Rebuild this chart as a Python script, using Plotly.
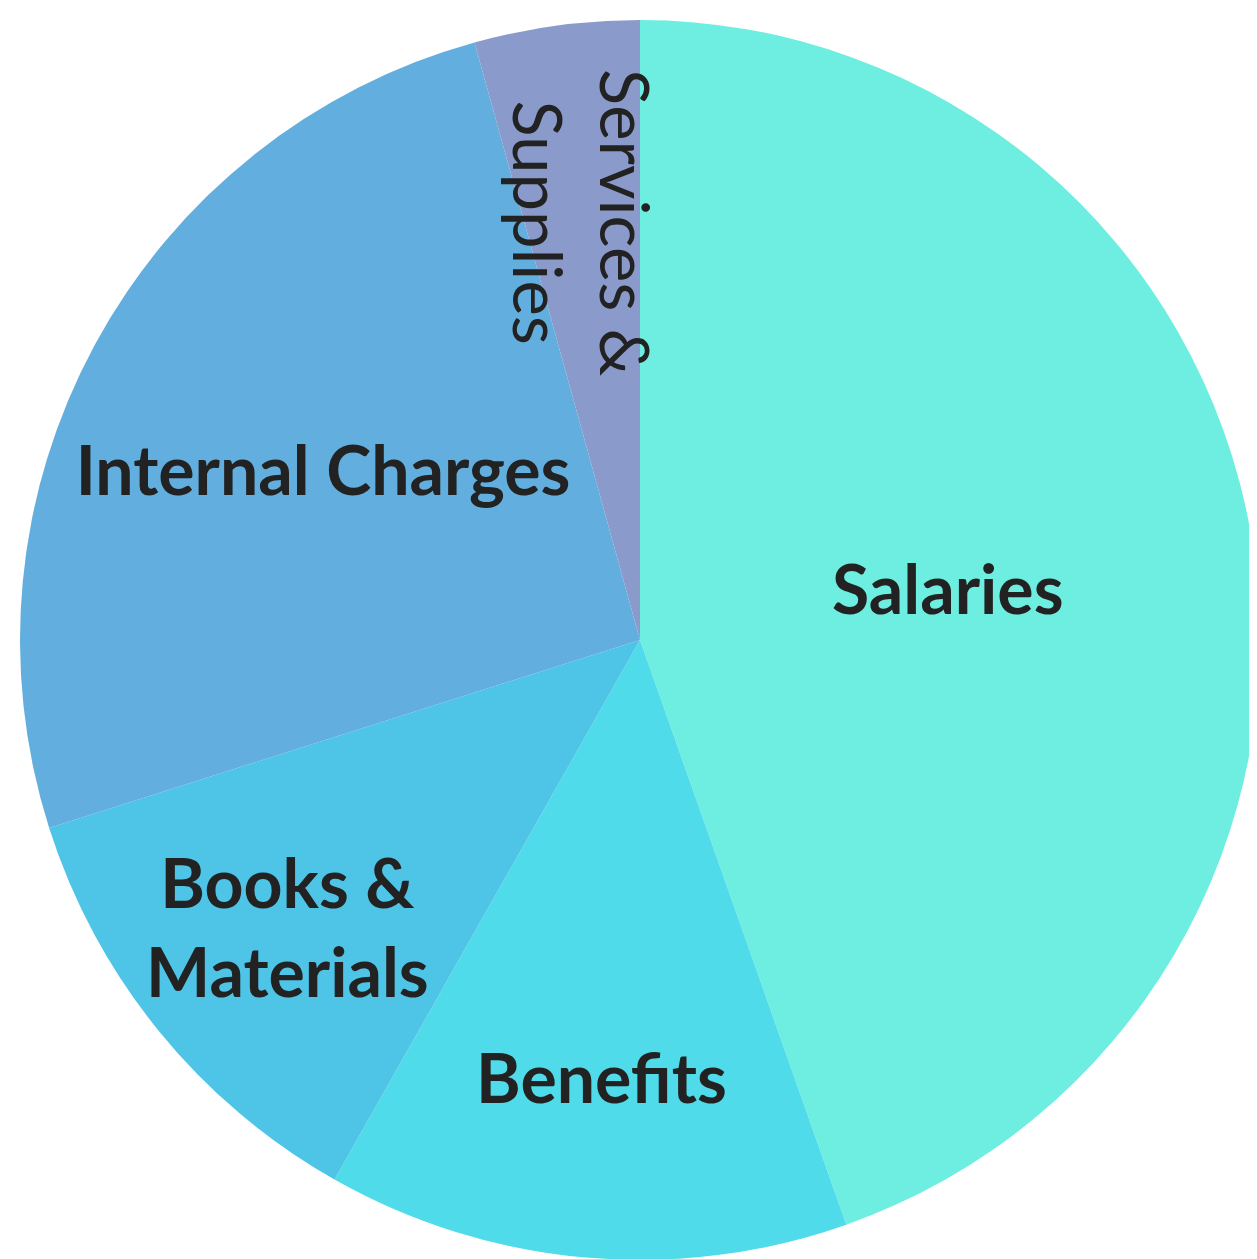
import math
import plotly.graph_objects as go

labels = ["Salaries", "Benefits", "Books &<br>Materials", "Internal Charges", "Services &<br>Supplies"]
values = [44.6, 13.6, 11.9, 25.6, 4.3]
colors = ["#6DEEE0", "#4FDBE9", "#4EC4E7", "#62AEDE", "#8A9ACB"]

# The narrow last slice gets its label as a vertical annotation along its bisector
narrow_idx = 4
slice_text = [lab if i != narrow_idx else "" for i, lab in enumerate(labels)]

fig = go.Figure(
    go.Pie(
        labels=labels,
        values=values,
        text=slice_text,
        sort=False,
        direction="clockwise",
        rotation=0,
        marker=dict(colors=colors, line=dict(width=0)),
        textinfo="text",
        textposition="inside",
        insidetextorientation="horizontal",
        textfont=dict(family="Lato, sans-serif", size=68, color="#222222", weight="bold"),
        hoverinfo="label+percent",
        showlegend=False,
    )
)

# position of narrow slice label: on slice bisector, at 0.68 of the radius
total = sum(values)
start = sum(values[:narrow_idx]) / total * 360
mid = math.radians(start + values[narrow_idx] / total * 180)
rfrac = 0.68
ax = 0.5 + 0.5 * rfrac * math.sin(mid)
ay = 0.5 + 0.5 * rfrac * math.cos(mid)

fig.add_annotation(
    x=ax, y=ay, xref="paper", yref="paper",
    text=labels[narrow_idx], showarrow=False, textangle=90,
    xanchor="center", yanchor="middle",
    font=dict(family="Lato, sans-serif", size=67, color="#222222"),
)

fig.update_layout(
    width=1280,
    height=1280,
    margin=dict(l=12, r=28, t=12, b=28),
    paper_bgcolor="white",
    plot_bgcolor="white",
)

fig.write_html("out.html")
